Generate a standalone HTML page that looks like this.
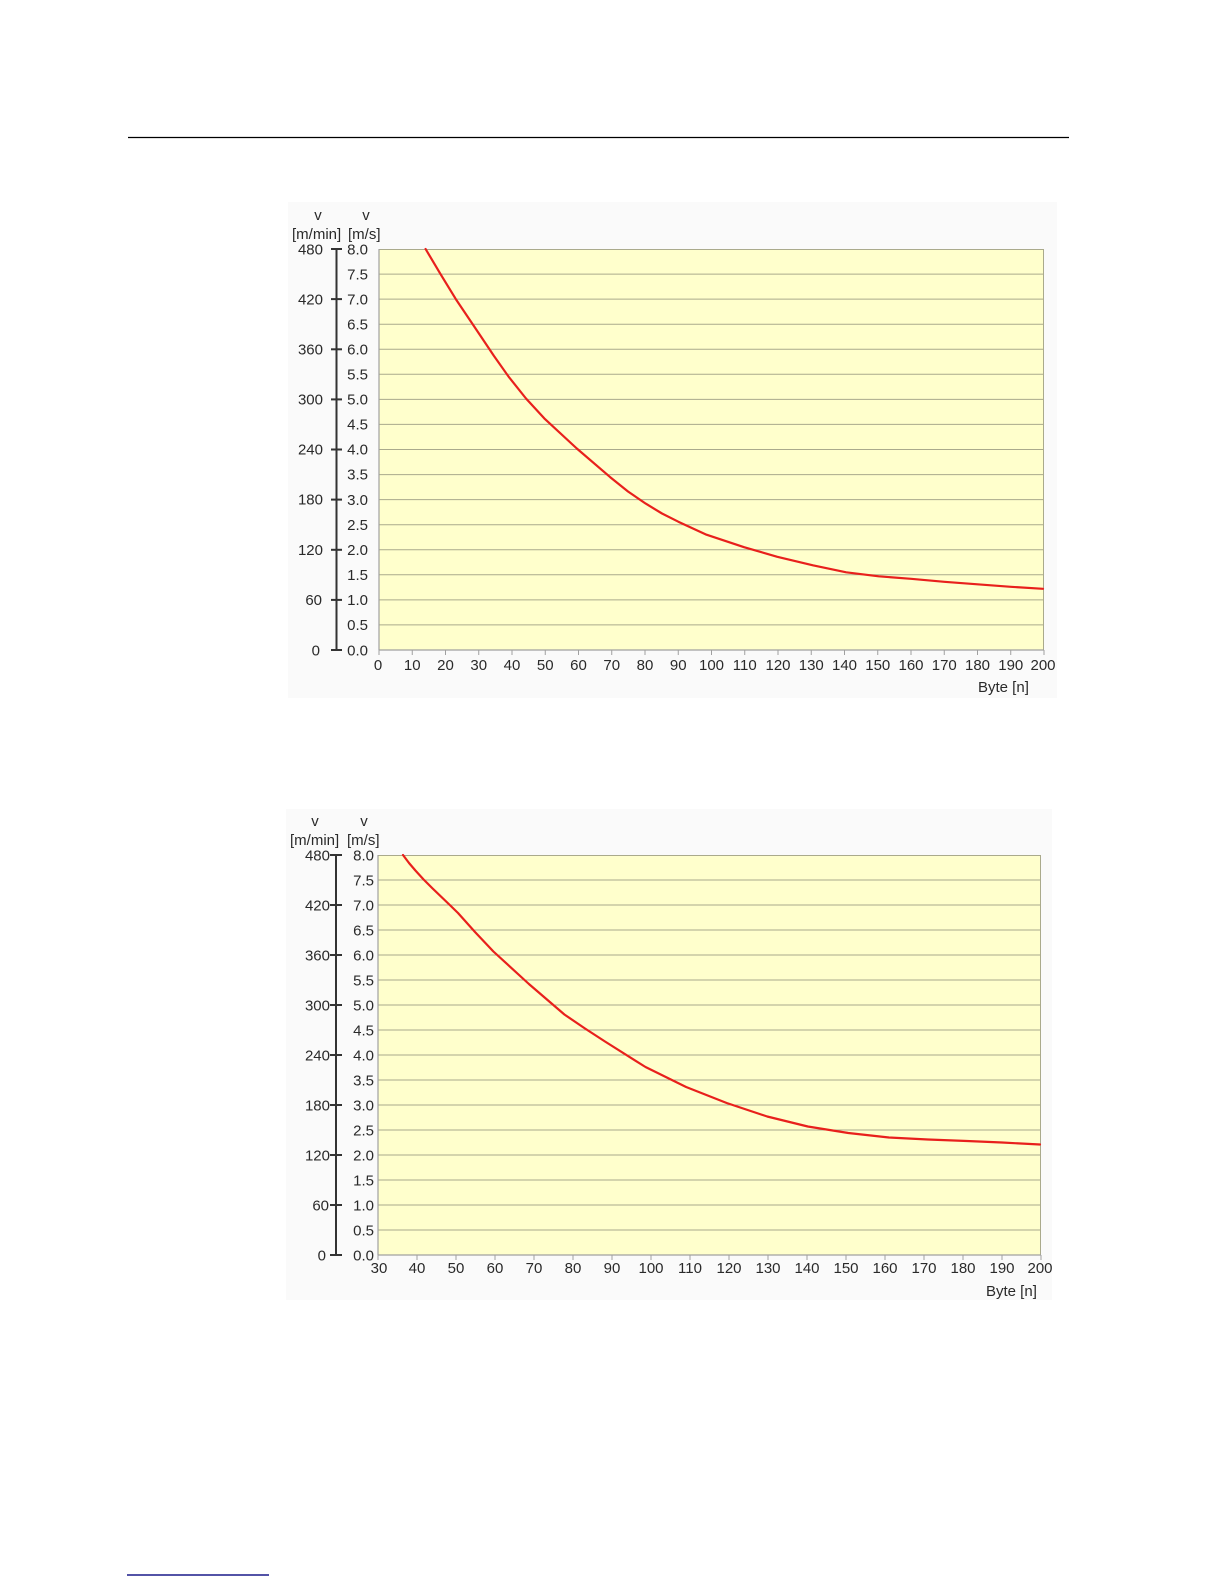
<!DOCTYPE html>
<html>
<head>
<meta charset="utf-8">
<style>
  html, body { margin: 0; padding: 0; background: #ffffff; }
  svg { display: block; }
  text { font-family: "Liberation Sans", Arial, sans-serif; font-size: 15px; fill: #2a2a2a; }
</style>
</head>
<body>
<svg width="1224" height="1584" viewBox="0 0 1224 1584" xmlns="http://www.w3.org/2000/svg">
  <rect x="0" y="0" width="1224" height="1584" fill="#ffffff"/>
  <!-- top rule -->
  <line x1="128" y1="137.5" x2="1069" y2="137.5" stroke="#000" stroke-width="1.2"/>
  <!-- bottom-left footnote rule -->
  <line x1="127" y1="1575" x2="269" y2="1575" stroke="#1a1a8a" stroke-width="1.5"/>

  <!-- ================= CHART 1 ================= -->
  <rect x="288" y="202" width="769" height="496" fill="#fafafa"/>
  <rect x="379" y="249" width="665" height="401" fill="#ffffcc"/>
  <g stroke="#aaaa8c" stroke-width="1">
    <line x1="379" y1="624.9" x2="1044" y2="624.9"/>
    <line x1="379" y1="599.9" x2="1044" y2="599.9"/>
    <line x1="379" y1="574.8" x2="1044" y2="574.8"/>
    <line x1="379" y1="549.8" x2="1044" y2="549.8"/>
    <line x1="379" y1="524.7" x2="1044" y2="524.7"/>
    <line x1="379" y1="499.6" x2="1044" y2="499.6"/>
    <line x1="379" y1="474.6" x2="1044" y2="474.6"/>
    <line x1="379" y1="449.5" x2="1044" y2="449.5"/>
    <line x1="379" y1="424.4" x2="1044" y2="424.4"/>
    <line x1="379" y1="399.4" x2="1044" y2="399.4"/>
    <line x1="379" y1="374.3" x2="1044" y2="374.3"/>
    <line x1="379" y1="349.3" x2="1044" y2="349.3"/>
    <line x1="379" y1="324.2" x2="1044" y2="324.2"/>
    <line x1="379" y1="299.1" x2="1044" y2="299.1"/>
    <line x1="379" y1="274.1" x2="1044" y2="274.1"/>
    <line x1="379" y1="249.5" x2="1044" y2="249.5"/>
    <line x1="1043.5" y1="249" x2="1043.5" y2="650"/>
  </g>
  <g stroke="#a0a0a0" stroke-width="1.2">
    <line x1="379" y1="249" x2="379" y2="650"/>
    <line x1="379" y1="650" x2="1044" y2="650"/>
  </g>
  <g stroke="#a0a0a0" stroke-width="1">
    <line x1="379" y1="650" x2="379" y2="655"/>
    <line x1="412.25" y1="650" x2="412.25" y2="655"/>
    <line x1="445.5" y1="650" x2="445.5" y2="655"/>
    <line x1="478.75" y1="650" x2="478.75" y2="655"/>
    <line x1="512" y1="650" x2="512" y2="655"/>
    <line x1="545.25" y1="650" x2="545.25" y2="655"/>
    <line x1="578.5" y1="650" x2="578.5" y2="655"/>
    <line x1="611.75" y1="650" x2="611.75" y2="655"/>
    <line x1="645" y1="650" x2="645" y2="655"/>
    <line x1="678.25" y1="650" x2="678.25" y2="655"/>
    <line x1="711.5" y1="650" x2="711.5" y2="655"/>
    <line x1="744.75" y1="650" x2="744.75" y2="655"/>
    <line x1="778" y1="650" x2="778" y2="655"/>
    <line x1="811.25" y1="650" x2="811.25" y2="655"/>
    <line x1="844.5" y1="650" x2="844.5" y2="655"/>
    <line x1="877.75" y1="650" x2="877.75" y2="655"/>
    <line x1="911" y1="650" x2="911" y2="655"/>
    <line x1="944.25" y1="650" x2="944.25" y2="655"/>
    <line x1="977.5" y1="650" x2="977.5" y2="655"/>
    <line x1="1010.75" y1="650" x2="1010.75" y2="655"/>
    <line x1="1044" y1="650" x2="1044" y2="655"/>
  </g>
  <!-- curve 1 -->
  <polyline fill="none" stroke="#e8201c" stroke-width="2.2" stroke-linejoin="round" stroke-linecap="round"
    points="425.6,249 440.5,274.1 455.8,299.1 480.1,335.2 494,356 508.7,376.8 526,398.5 544.3,418.4 576.8,448.5 610.1,477.1 628,491.5 645.7,503.6 662,513.5 678.3,521.7 706.5,534.7 744.1,547.2 777.3,556.8 812.9,565.3 846.2,572.3 878.7,576.3 911.0,578.8 944.3,581.8 977.5,584.3 1010.8,586.8 1043,588.8"/>
  <!-- left axis 1 -->
  <g stroke="#333" stroke-width="2">
    <line x1="336.5" y1="249" x2="336.5" y2="650"/>
    <line x1="331" y1="249" x2="342" y2="249"/>
    <line x1="331" y1="299.1" x2="342" y2="299.1"/>
    <line x1="331" y1="349.3" x2="342" y2="349.3"/>
    <line x1="331" y1="399.4" x2="342" y2="399.4"/>
    <line x1="331" y1="449.5" x2="342" y2="449.5"/>
    <line x1="331" y1="499.6" x2="342" y2="499.6"/>
    <line x1="331" y1="549.8" x2="342" y2="549.8"/>
    <line x1="331" y1="599.9" x2="342" y2="599.9"/>
    <line x1="331" y1="650" x2="342" y2="650"/>
  </g>
  <text x="318" y="220" text-anchor="middle">v</text>
  <text x="366" y="220" text-anchor="middle">v</text>
  <text x="292" y="239">[m/min]</text>
  <text x="348" y="239">[m/s]</text>
  <g text-anchor="end">
    <text x="323" y="254.5">480</text>
    <text x="323" y="304.5">420</text>
    <text x="323" y="354.5">360</text>
    <text x="323" y="404.5">300</text>
    <text x="323" y="454.5">240</text>
    <text x="323" y="504.5">180</text>
    <text x="323" y="555">120</text>
    <text x="322" y="605">60</text>
    <text x="320" y="655.5">0</text>
  </g>
  <g text-anchor="end">
    <text x="368" y="254.5">8.0</text>
    <text x="368" y="279.5">7.5</text>
    <text x="368" y="304.5">7.0</text>
    <text x="368" y="329.5">6.5</text>
    <text x="368" y="354.5">6.0</text>
    <text x="368" y="379.5">5.5</text>
    <text x="368" y="404.5">5.0</text>
    <text x="368" y="429.5">4.5</text>
    <text x="368" y="454.5">4.0</text>
    <text x="368" y="479.5">3.5</text>
    <text x="368" y="505">3.0</text>
    <text x="368" y="530">2.5</text>
    <text x="368" y="555">2.0</text>
    <text x="368" y="580">1.5</text>
    <text x="368" y="605">1.0</text>
    <text x="368" y="630">0.5</text>
    <text x="368" y="655.5">0.0</text>
  </g>
  <g text-anchor="middle">
    <text x="378" y="670">0</text>
    <text x="412.25" y="670">10</text>
    <text x="445.5" y="670">20</text>
    <text x="478.75" y="670">30</text>
    <text x="512" y="670">40</text>
    <text x="545.25" y="670">50</text>
    <text x="578.5" y="670">60</text>
    <text x="611.75" y="670">70</text>
    <text x="645" y="670">80</text>
    <text x="678.25" y="670">90</text>
    <text x="711.5" y="670">100</text>
    <text x="744.75" y="670">110</text>
    <text x="778" y="670">120</text>
    <text x="811.25" y="670">130</text>
    <text x="844.5" y="670">140</text>
    <text x="877.75" y="670">150</text>
    <text x="911" y="670">160</text>
    <text x="944.25" y="670">170</text>
    <text x="977.5" y="670">180</text>
    <text x="1010.75" y="670">190</text>
    <text x="1043" y="670">200</text>
  </g>
  <text x="978" y="692">Byte [n]</text>

  <!-- ================= CHART 2 ================= -->
  <rect x="286" y="809" width="766" height="491" fill="#fafafa"/>
  <rect x="378" y="855" width="663" height="400" fill="#ffffcc"/>
  <g stroke="#aaaa8c" stroke-width="1">
    <line x1="378" y1="1230" x2="1041" y2="1230"/>
    <line x1="378" y1="1205" x2="1041" y2="1205"/>
    <line x1="378" y1="1180" x2="1041" y2="1180"/>
    <line x1="378" y1="1155" x2="1041" y2="1155"/>
    <line x1="378" y1="1130" x2="1041" y2="1130"/>
    <line x1="378" y1="1105" x2="1041" y2="1105"/>
    <line x1="378" y1="1080" x2="1041" y2="1080"/>
    <line x1="378" y1="1055" x2="1041" y2="1055"/>
    <line x1="378" y1="1030" x2="1041" y2="1030"/>
    <line x1="378" y1="1005" x2="1041" y2="1005"/>
    <line x1="378" y1="980" x2="1041" y2="980"/>
    <line x1="378" y1="955" x2="1041" y2="955"/>
    <line x1="378" y1="930" x2="1041" y2="930"/>
    <line x1="378" y1="905" x2="1041" y2="905"/>
    <line x1="378" y1="880" x2="1041" y2="880"/>
    <line x1="378" y1="855.5" x2="1041" y2="855.5"/>
    <line x1="1040.5" y1="855" x2="1040.5" y2="1255"/>
  </g>
  <g stroke="#a0a0a0" stroke-width="1.2">
    <line x1="378" y1="855" x2="378" y2="1255"/>
    <line x1="378" y1="1255" x2="1041" y2="1255"/>
  </g>
  <g stroke="#a0a0a0" stroke-width="1">
    <line x1="378" y1="1255" x2="378" y2="1260"/>
    <line x1="417" y1="1255" x2="417" y2="1260"/>
    <line x1="456" y1="1255" x2="456" y2="1260"/>
    <line x1="495" y1="1255" x2="495" y2="1260"/>
    <line x1="534" y1="1255" x2="534" y2="1260"/>
    <line x1="573" y1="1255" x2="573" y2="1260"/>
    <line x1="612" y1="1255" x2="612" y2="1260"/>
    <line x1="651" y1="1255" x2="651" y2="1260"/>
    <line x1="690" y1="1255" x2="690" y2="1260"/>
    <line x1="729" y1="1255" x2="729" y2="1260"/>
    <line x1="768" y1="1255" x2="768" y2="1260"/>
    <line x1="807" y1="1255" x2="807" y2="1260"/>
    <line x1="846" y1="1255" x2="846" y2="1260"/>
    <line x1="885" y1="1255" x2="885" y2="1260"/>
    <line x1="924" y1="1255" x2="924" y2="1260"/>
    <line x1="963" y1="1255" x2="963" y2="1260"/>
    <line x1="1002" y1="1255" x2="1002" y2="1260"/>
    <line x1="1041" y1="1255" x2="1041" y2="1260"/>
  </g>
  <!-- curve 2 -->
  <polyline fill="none" stroke="#e8201c" stroke-width="2.2" stroke-linejoin="round" stroke-linecap="round"
    points="403.0,855 409,863 415.4,870.5 423.6,879.5 432.6,888.5 449.8,905 458.0,913 475,932 493.4,951.5 528.9,984 564.4,1014.5 585,1028.5 605.0,1041.5 645.5,1067 686.1,1087 726.7,1103 767.2,1116.5 807.8,1126.5 848.3,1133 888.9,1137.5 927.9,1139.5 966.9,1141 1002,1142.5 1040,1144.5"/>
  <!-- left axis 2 -->
  <g stroke="#333" stroke-width="2">
    <line x1="336" y1="855" x2="336" y2="1255"/>
    <line x1="330" y1="855" x2="342" y2="855"/>
    <line x1="330" y1="905" x2="342" y2="905"/>
    <line x1="330" y1="955" x2="342" y2="955"/>
    <line x1="330" y1="1005" x2="342" y2="1005"/>
    <line x1="330" y1="1055" x2="342" y2="1055"/>
    <line x1="330" y1="1105" x2="342" y2="1105"/>
    <line x1="330" y1="1155" x2="342" y2="1155"/>
    <line x1="330" y1="1205" x2="342" y2="1205"/>
    <line x1="330" y1="1255" x2="342" y2="1255"/>
  </g>
  <text x="315" y="826" text-anchor="middle">v</text>
  <text x="364" y="826" text-anchor="middle">v</text>
  <text x="290" y="845">[m/min]</text>
  <text x="347" y="845">[m/s]</text>
  <g text-anchor="end">
    <text x="330" y="860.5">480</text>
    <text x="330" y="910.5">420</text>
    <text x="330" y="960.5">360</text>
    <text x="330" y="1010.5">300</text>
    <text x="330" y="1060.5">240</text>
    <text x="330" y="1110.5">180</text>
    <text x="330" y="1160.5">120</text>
    <text x="329" y="1210.5">60</text>
    <text x="326" y="1260.5">0</text>
  </g>
  <g text-anchor="end">
    <text x="374" y="860.5">8.0</text>
    <text x="374" y="885.5">7.5</text>
    <text x="374" y="910.5">7.0</text>
    <text x="374" y="935.5">6.5</text>
    <text x="374" y="960.5">6.0</text>
    <text x="374" y="985.5">5.5</text>
    <text x="374" y="1010.5">5.0</text>
    <text x="374" y="1035.5">4.5</text>
    <text x="374" y="1060.5">4.0</text>
    <text x="374" y="1085.5">3.5</text>
    <text x="374" y="1110.5">3.0</text>
    <text x="374" y="1135.5">2.5</text>
    <text x="374" y="1160.5">2.0</text>
    <text x="374" y="1185.5">1.5</text>
    <text x="374" y="1210.5">1.0</text>
    <text x="374" y="1235.5">0.5</text>
    <text x="374" y="1260.5">0.0</text>
  </g>
  <g text-anchor="middle">
    <text x="379" y="1273">30</text>
    <text x="417" y="1273">40</text>
    <text x="456" y="1273">50</text>
    <text x="495" y="1273">60</text>
    <text x="534" y="1273">70</text>
    <text x="573" y="1273">80</text>
    <text x="612" y="1273">90</text>
    <text x="651" y="1273">100</text>
    <text x="690" y="1273">110</text>
    <text x="729" y="1273">120</text>
    <text x="768" y="1273">130</text>
    <text x="807" y="1273">140</text>
    <text x="846" y="1273">150</text>
    <text x="885" y="1273">160</text>
    <text x="924" y="1273">170</text>
    <text x="963" y="1273">180</text>
    <text x="1002" y="1273">190</text>
    <text x="1040" y="1273">200</text>
  </g>
  <text x="986" y="1296">Byte [n]</text>
</svg>
</body>
</html>
